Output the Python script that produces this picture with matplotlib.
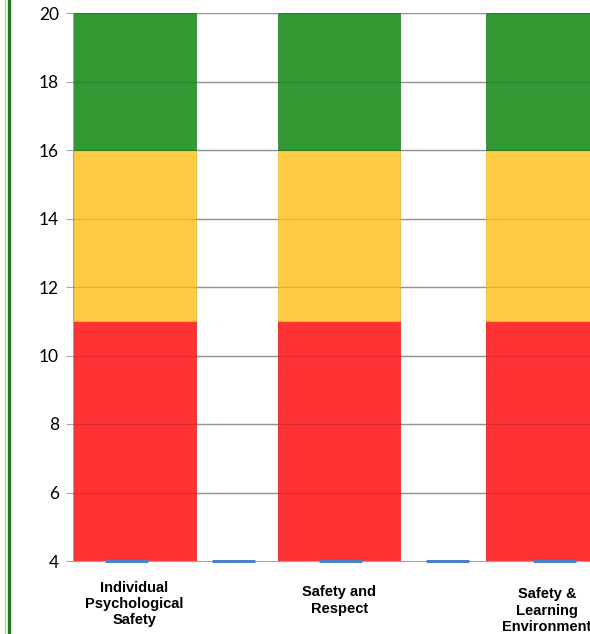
import matplotlib
matplotlib.use("Agg")
import matplotlib.pyplot as plt
from matplotlib.lines import Line2D

# Category labels and the score bands (each band stacked above the axis floor)
categories = ["Individual\nPsychological\nSafety", "Safety and\nRespect", "Safety &\nLearning\nEnvironment"]
axis_floor = 4
red_band = [7, 7, 7]       # 4 -> 11
yellow_band = [5, 5, 5]    # 11 -> 16
green_band = [4, 4, 4]     # 16 -> 20

# Score series (drawn as short markers at the floor)
score_values = [4, 4, 4, 4, 4]

y_ticks = [4, 6, 8, 10, 12, 14, 16, 18, 20]

W, H = 590, 634
fig = plt.figure(figsize=(W / 100, H / 100), dpi=100)
ax = fig.add_axes([73 / W, 73 / H, 535 / W, 548 / H])

band_pos = [0.575, 2.49, 4.43]
band_width = 1.14
score_pos = [0.5, 1.5, 2.5, 3.5, 4.5]

red_c, yellow_c, green_c = "#FF3333", "#FFCC44", "#339933"
ax.bar(band_pos, red_band, width=band_width, bottom=axis_floor,
       color=red_c, edgecolor="#E02A2A", linewidth=0.6, zorder=2)
bottom2 = [axis_floor + r for r in red_band]
ax.bar(band_pos, yellow_band, width=band_width, bottom=bottom2,
       color=yellow_c, edgecolor="#EDBB38", linewidth=0.6, zorder=2)
bottom3 = [b + y for b, y in zip(bottom2, yellow_band)]
ax.bar(band_pos, green_band, width=band_width, bottom=bottom3,
       color=green_c, edgecolor="#2B8A2B", linewidth=0.6, zorder=2)

# gridlines: behind in the gaps, faint overlay across the bars
for t in y_ticks[1:]:
    ax.axhline(t, color="#A6A6A6", lw=1.0, zorder=1)
    ax.axhline(t, color="#000000", lw=1.0, alpha=0.12, zorder=3)

# score markers
ax.hlines(score_values, [p - 0.2 for p in score_pos], [p + 0.2 for p in score_pos],
          colors="#4F81C8", lw=2.2, zorder=4, clip_on=False)

ax.set_xlim(0, 5)
ax.set_ylim(4, 20)
ax.set_yticks(y_ticks)
ax.set_yticklabels([str(t) for t in y_ticks], fontsize=12.5, family="Lato")
ax.set_xticks([])
for s in ["top", "right"]:
    ax.spines[s].set_visible(False)
ax.spines["left"].set_color("#A6A6A6")
ax.spines["bottom"].set_color("#A6A6A6")
ax.spines["left"].set_zorder(1)
ax.spines["bottom"].set_zorder(3)
ax.tick_params(axis="y", length=5, color="#A6A6A6", pad=5)

# category labels below the axis
label_offsets = [-43, -39.5, -49.5]
for x, lab, off in zip(band_pos, categories, label_offsets):
    ax.annotate(lab, xy=(x, axis_floor), xytext=(0, off * 0.72), textcoords="offset points",
                ha="center", va="center", fontsize=10.5, fontweight="bold",
                family="Liberation Sans", linespacing=1.2, annotation_clip=False)

# double frame line on the left
fig.add_artist(Line2D([4.5 / W, 4.5 / W], [0, 1], color="#A8D4A8", lw=1.0, transform=fig.transFigure))
fig.add_artist(Line2D([9 / W, 9 / W], [0, 1], color="#1A7A1A", lw=2.4, transform=fig.transFigure))

fig.savefig("out.png", dpi=100)
